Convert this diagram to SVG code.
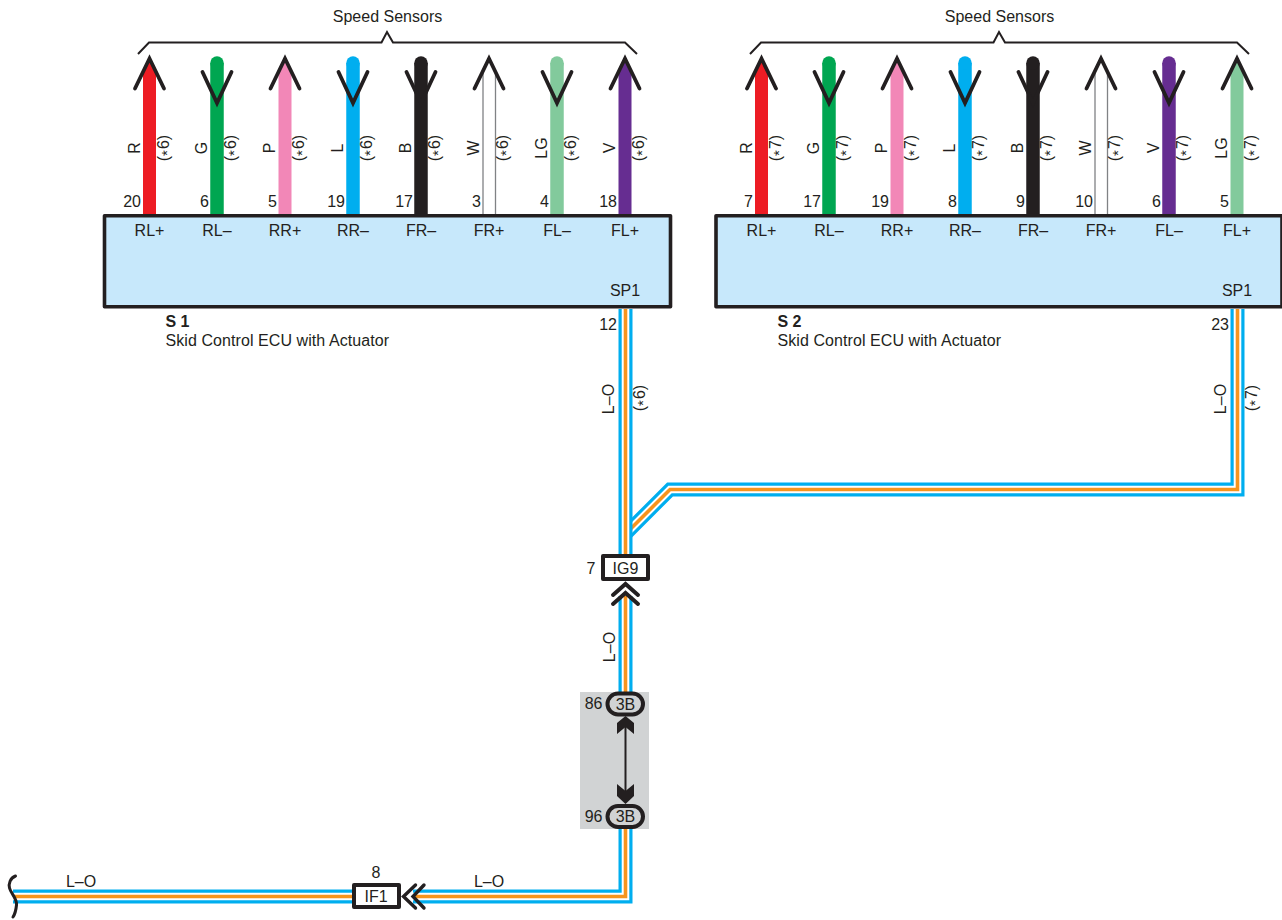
<svg xmlns="http://www.w3.org/2000/svg" width="1282" height="920" viewBox="0 0 1282 920">
<style>
text{font-family:"Liberation Sans",Arial,sans-serif;font-size:16px;fill:#231f20}
.m{text-anchor:middle}.e{text-anchor:end}
.a{font-size:15px;letter-spacing:1px}
.box{fill:#c7e8fb;stroke:#231f20;stroke-width:3.6;stroke-linejoin:round}
.w{stroke-width:13.5;fill:none}
.ww{stroke:#808285;stroke-width:1.3;fill:none}
.head{fill:none;stroke:#231f20;stroke-width:3.8;stroke-linecap:round;stroke-linejoin:miter}
.conn{fill:#fff;stroke:#231f20;stroke-width:4;stroke-linejoin:round}
.oval{fill:#d1d3d4;stroke:#231f20;stroke-width:4}
.brace{fill:none;stroke:#231f20;stroke-width:2}
.chev{fill:none;stroke:#231f20;stroke-width:4;stroke-linecap:round}
.chev2{fill:none;stroke:#231f20;stroke-width:3.4;stroke-linecap:round}
.lb{stroke:#00aeef;stroke-width:14;fill:none;stroke-linejoin:miter}
.lw{stroke:#fff;stroke-width:7.6;fill:none;stroke-linejoin:miter}
.lo{stroke:#f7941d;stroke-width:3.6;fill:none;stroke-linejoin:miter}
</style>
<defs>
<g id="up"><path class="head" d="M-14.5,88.5 L0,58.5 L14.5,88.5"/></g>
<g id="dn"><path class="head" d="M-14.5,72 L0,103 L14.5,72"/></g>
</defs>
<g id="connectors">
<g id="speed-wires-s1">
<path d="M143,73 L149.5,60 L156,73 V214 H143Z" fill="#ed1c24"/>
<path d="M217,63 V214" class="w" stroke="#00a651"/><circle cx="217" cy="63" r="6.75" fill="#00a651"/>
<path d="M278.5,73 L285,60 L291.5,73 V214 H278.5Z" fill="#f287b7"/>
<path d="M353,63 V214" class="w" stroke="#00aeef"/><circle cx="353" cy="63" r="6.75" fill="#00aeef"/>
<path d="M421,63 V214" class="w" stroke="#231f20"/><circle cx="421" cy="63" r="6.75" fill="#231f20"/>
<path class="ww" d="M483,73 V214 M495.5,73 V214"/>
<path d="M557,63 V214" class="w" stroke="#82ca9c"/><circle cx="557" cy="63" r="6.75" fill="#82ca9c"/>
<path d="M618.5,73 L625,60 L631.5,73 V214 H618.5Z" fill="#662d91"/>
</g>
<g id="speed-wires-s2">
<path d="M755,73 L761.5,60 L768,73 V214 H755Z" fill="#ed1c24"/>
<path d="M829,63 V214" class="w" stroke="#00a651"/><circle cx="829" cy="63" r="6.75" fill="#00a651"/>
<path d="M890.5,73 L897,60 L903.5,73 V214 H890.5Z" fill="#f287b7"/>
<path d="M965,63 V214" class="w" stroke="#00aeef"/><circle cx="965" cy="63" r="6.75" fill="#00aeef"/>
<path d="M1033,63 V214" class="w" stroke="#231f20"/><circle cx="1033" cy="63" r="6.75" fill="#231f20"/>
<path class="ww" d="M1095,73 V214 M1107.5,73 V214"/>
<path d="M1169,63 V214" class="w" stroke="#662d91"/><circle cx="1169" cy="63" r="6.75" fill="#662d91"/>
<path d="M1230.5,73 L1237,60 L1243.5,73 V214 H1230.5Z" fill="#82ca9c"/>
</g>
<g id="arrowheads">
<use href="#up" x="149.5"/><use href="#dn" x="217"/><use href="#up" x="285"/><use href="#dn" x="353"/><use href="#dn" x="421"/><use href="#up" x="489"/><use href="#dn" x="557"/><use href="#up" x="625"/>
<use href="#up" x="761.5"/><use href="#dn" x="829"/><use href="#up" x="897"/><use href="#dn" x="965"/><use href="#dn" x="1033"/><use href="#up" x="1101"/><use href="#dn" x="1169"/><use href="#up" x="1237"/>
</g>
<g id="lo-branch">
<path class="lb" d="M1237.5,309 V489.5 H670 L625.5,534"/><path class="lw" d="M1237.5,309 V489.5 H670 L625.5,534"/><path class="lo" d="M1237.5,309 V489.5 H670 L625.5,534"/>
</g>
<g id="lo-main">
<path class="lb" d="M625.5,309 V554"/><path class="lw" d="M625.5,309 V554"/><path class="lo" d="M625.5,309 V554"/>
<path class="lb" d="M625.5,596 V692"/><path class="lw" d="M625.5,596 V692"/><path class="lo" d="M625.5,596 V692"/>
<path class="lb" d="M625.5,829 V896.5 H413"/><path class="lw" d="M625.5,829 V896.5 H413"/><path class="lo" d="M625.5,829 V896.5 H413"/>
<path class="lb" d="M13,896.5 H352"/><path class="lw" d="M13,896.5 H352"/><path class="lo" d="M13,896.5 H352"/>
</g>
<path id="wire-break" d="M15.5,876 C10,878 8.5,884 9.5,888 C11,894 17,898 16.5,905 C16,910 15,914 13,917" fill="none" stroke="#231f20" stroke-width="3" stroke-linecap="round"/>
</g>
<g id="brace-s1"><path class="brace" d="M138,54 L149,42.5 H381.5 L387,32 L393,42.5 H625 L637,54"/><text class="m" x="387.5" y="22">Speed Sensors</text></g>
<g id="brace-s2"><path class="brace" d="M750,54 L761,42.5 H993.5 L999,32 L1005,42.5 H1237 L1249,54"/><text class="m" x="999.5" y="22">Speed Sensors</text></g>
<g id="s1">
<rect class="box" x="104.5" y="215.8" width="566" height="91"/>
<text class="m" x="149.5" y="235.5">RL+</text><text class="m" x="217" y="235.5">RL–</text><text class="m" x="285" y="235.5">RR+</text><text class="m" x="353" y="235.5">RR–</text><text class="m" x="421" y="235.5">FR–</text><text class="m" x="489" y="235.5">FR+</text><text class="m" x="557" y="235.5">FL–</text><text class="m" x="625" y="235.5">FL+</text>
<text class="m" x="625" y="296">SP1</text>
<text x="165.5" y="326.5" style="font-weight:bold">S 1</text><text x="165.5" y="346" textLength="223.5">Skid Control ECU with Actuator</text>
<text class="e" x="141" y="207">20</text><text class="e" x="209" y="207">6</text><text class="e" x="277" y="207">5</text><text class="e" x="345" y="207">19</text><text class="e" x="413" y="207">17</text><text class="e" x="481" y="207">3</text><text class="e" x="549" y="207">4</text><text class="e" x="617" y="207">18</text>
<text class="e" x="617" y="330">12</text>
</g>
<g id="s1-labels">
<text class="m" transform="translate(139.5,148) rotate(-90)">R</text><text class="m" transform="translate(168.5,148) rotate(-90)">(<tspan class="a" dy="3">*</tspan><tspan dy="-3">6)</tspan></text>
<text class="m" transform="translate(207,148) rotate(-90)">G</text><text class="m" transform="translate(236,148) rotate(-90)">(<tspan class="a" dy="3">*</tspan><tspan dy="-3">6)</tspan></text>
<text class="m" transform="translate(275,148) rotate(-90)">P</text><text class="m" transform="translate(304,148) rotate(-90)">(<tspan class="a" dy="3">*</tspan><tspan dy="-3">6)</tspan></text>
<text class="m" transform="translate(343,148) rotate(-90)">L</text><text class="m" transform="translate(372,148) rotate(-90)">(<tspan class="a" dy="3">*</tspan><tspan dy="-3">6)</tspan></text>
<text class="m" transform="translate(411,148) rotate(-90)">B</text><text class="m" transform="translate(440,148) rotate(-90)">(<tspan class="a" dy="3">*</tspan><tspan dy="-3">6)</tspan></text>
<text class="m" transform="translate(478.5,148) rotate(-90)">W</text><text class="m" transform="translate(508,148) rotate(-90)">(<tspan class="a" dy="3">*</tspan><tspan dy="-3">6)</tspan></text>
<text class="m" transform="translate(547,148) rotate(-90)">LG</text><text class="m" transform="translate(576,148) rotate(-90)">(<tspan class="a" dy="3">*</tspan><tspan dy="-3">6)</tspan></text>
<text class="m" transform="translate(615,148) rotate(-90)">V</text><text class="m" transform="translate(644,148) rotate(-90)">(<tspan class="a" dy="3">*</tspan><tspan dy="-3">6)</tspan></text>
<text class="m" transform="translate(613.5,399) rotate(-90)">L–O</text><text class="m" transform="translate(645,398) rotate(-90)">(<tspan class="a" dy="3">*</tspan><tspan dy="-3">6)</tspan></text>
</g>
<g id="s2">
<rect class="box" x="716" y="215.8" width="566" height="91"/>
<text class="m" x="761.5" y="235.5">RL+</text><text class="m" x="829" y="235.5">RL–</text><text class="m" x="897" y="235.5">RR+</text><text class="m" x="965" y="235.5">RR–</text><text class="m" x="1033" y="235.5">FR–</text><text class="m" x="1101" y="235.5">FR+</text><text class="m" x="1169" y="235.5">FL–</text><text class="m" x="1237" y="235.5">FL+</text>
<text class="m" x="1237" y="296">SP1</text>
<text x="777.5" y="326.5" style="font-weight:bold">S 2</text><text x="777.5" y="346" textLength="223.5">Skid Control ECU with Actuator</text>
<text class="e" x="753" y="207">7</text><text class="e" x="821" y="207">17</text><text class="e" x="889" y="207">19</text><text class="e" x="957" y="207">8</text><text class="e" x="1025" y="207">9</text><text class="e" x="1093" y="207">10</text><text class="e" x="1161" y="207">6</text><text class="e" x="1229" y="207">5</text>
<text class="e" x="1229" y="330">23</text>
</g>
<g id="s2-labels">
<text class="m" transform="translate(751.5,148) rotate(-90)">R</text><text class="m" transform="translate(780.5,148) rotate(-90)">(<tspan class="a" dy="3">*</tspan><tspan dy="-3">7)</tspan></text>
<text class="m" transform="translate(819,148) rotate(-90)">G</text><text class="m" transform="translate(848,148) rotate(-90)">(<tspan class="a" dy="3">*</tspan><tspan dy="-3">7)</tspan></text>
<text class="m" transform="translate(887,148) rotate(-90)">P</text><text class="m" transform="translate(916,148) rotate(-90)">(<tspan class="a" dy="3">*</tspan><tspan dy="-3">7)</tspan></text>
<text class="m" transform="translate(955,148) rotate(-90)">L</text><text class="m" transform="translate(984,148) rotate(-90)">(<tspan class="a" dy="3">*</tspan><tspan dy="-3">7)</tspan></text>
<text class="m" transform="translate(1023,148) rotate(-90)">B</text><text class="m" transform="translate(1052,148) rotate(-90)">(<tspan class="a" dy="3">*</tspan><tspan dy="-3">7)</tspan></text>
<text class="m" transform="translate(1090.5,148) rotate(-90)">W</text><text class="m" transform="translate(1120,148) rotate(-90)">(<tspan class="a" dy="3">*</tspan><tspan dy="-3">7)</tspan></text>
<text class="m" transform="translate(1159,148) rotate(-90)">V</text><text class="m" transform="translate(1188,148) rotate(-90)">(<tspan class="a" dy="3">*</tspan><tspan dy="-3">7)</tspan></text>
<text class="m" transform="translate(1227,148) rotate(-90)">LG</text><text class="m" transform="translate(1256,148) rotate(-90)">(<tspan class="a" dy="3">*</tspan><tspan dy="-3">7)</tspan></text>
<text class="m" transform="translate(1225.5,399) rotate(-90)">L–O</text><text class="m" transform="translate(1257,398) rotate(-90)">(<tspan class="a" dy="3">*</tspan><tspan dy="-3">7)</tspan></text>
</g>
<g id="ig9">
<path class="chev" d="M613,595 L625.5,584 L638,595 M613,604 L625.5,593 L638,604"/>
<rect class="conn" x="603" y="556" width="45" height="23"/>
<text class="m" x="625.5" y="573.5">IG9</text><text class="e" x="595.5" y="573.5">7</text>
<text class="m" transform="translate(615,647) rotate(-90)">L–O</text>
</g>
<g id="junction-3b">
<rect x="580" y="692" width="69" height="137" fill="#d1d3d4"/>
<path d="M625.5,725 V792" stroke="#231f20" stroke-width="2" fill="none"/>
<path d="M625.5,716 L634,723 V734 L625.5,727 L617,734 V723Z" fill="#231f20"/>
<path d="M625.5,804 L634,796 V784 L625.5,791 L617,784 V796Z" fill="#231f20"/>
<rect class="oval" x="607.5" y="693.5" width="35.5" height="21" rx="10.5"/>
<rect class="oval" x="607.5" y="806" width="35.5" height="21" rx="10.5"/>
<text class="m" x="625.5" y="709.5">3B</text><text class="m" x="625.5" y="822">3B</text>
<text class="e" x="602.5" y="709">86</text><text class="e" x="602.5" y="822">96</text>
</g>
<g id="if1">
<path class="chev2" d="M415.5,885 L403.5,896.5 L415.5,908 M424,885 L413,896.5 L424,908"/>
<rect class="conn" x="354" y="885" width="45" height="22"/>
<text class="m" x="376" y="902">IF1</text><text class="m" x="376" y="877.5">8</text>
<text class="m" x="81" y="887">L–O</text><text class="m" x="489" y="887">L–O</text>
</g>
</svg>
